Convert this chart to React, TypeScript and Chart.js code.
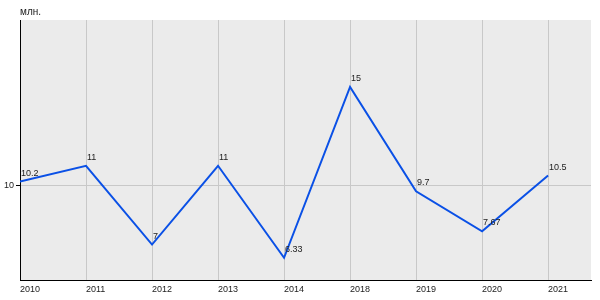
import React, { useEffect, useRef } from "react";
import { Chart, registerables } from "chart.js";

Chart.register(...registerables);

const categories = ["2010", "2011", "2012", "2013", "2014", "2018", "2019", "2020", "2021"];
const values = [10.2, 11, 7, 11, 6.33, 15, 9.7, 7.67, 10.5];
const yTicks = [10];
const unitLabel = "млн.";

const FONT = "Arial, 'Liberation Sans', sans-serif";

export default function App() {
  const ref = useRef<HTMLCanvasElement>(null);
  useEffect(() => {
    document.body.style.margin = "0";
    const canvas = ref.current!;
    const bgPlugin = {
      id: "bg",
      beforeDraw(chart: any) {
        const { ctx, chartArea } = chart;
        ctx.save();
        ctx.fillStyle = "#ebebeb";
        ctx.fillRect(chartArea.left, chartArea.top, chartArea.right - chartArea.left, chartArea.bottom - chartArea.top);
        ctx.restore();
      },
      afterDatasetsDraw(chart: any) {
        const { ctx } = chart;
        const meta = chart.getDatasetMeta(0);
        ctx.save();
        ctx.font = `9px ${FONT}`;
        ctx.fillStyle = "#222";
        ctx.textAlign = "left";
        ctx.textBaseline = "alphabetic";
        meta.data.forEach((pt: any, i: number) => {
          ctx.fillText(String(values[i]), pt.x + 1, pt.y - 6);
        });
        ctx.font = `10px ${FONT}`;
        ctx.textBaseline = "middle";
        ctx.fillText(unitLabel, chart.chartArea.left, 12);
        ctx.restore();
      },
    };
    const chart = new Chart(canvas, {
      type: "line",
      data: {
        datasets: [
          {
            data: values.map((v, i) => ({ x: i, y: v })),
            borderColor: "#0a50e6",
            borderWidth: 2,
            pointRadius: 0,
            tension: 0,
            fill: false,
          },
        ],
      },
      options: {
        animation: false,
        responsive: false,
        layout: { padding: { top: 20, right: 9, left: 0, bottom: 0 } },
        plugins: { legend: { display: false }, tooltip: { enabled: false } },
        scales: {
          x: {
            type: "linear",
            min: 0,
            max: 8.65,
            afterBuildTicks: (s: any) => {
              s.ticks = categories.map((_, i) => ({ value: i }));
            },
            afterFit: (s: any) => {
              s.height = 20;
            },
            ticks: {
              callback: (v: any) => categories[v as number] ?? "",
              align: "start",
              padding: 4,
              color: "#222",
              font: { family: FONT, size: 9 },
              maxRotation: 0,
              autoSkip: false,
            },
            grid: { color: "#c8c8c8", drawTicks: false, lineWidth: 1 },
            border: { color: "#000", width: 1 },
          },
          y: {
            type: "linear",
            min: 5.2,
            max: 18.4,
            afterBuildTicks: (s: any) => {
              s.ticks = yTicks.map((v) => ({ value: v }));
            },
            afterFit: (s: any) => {
              s.width = 20;
            },
            ticks: {
              padding: 2,
              color: "#222",
              font: { family: FONT, size: 9 },
            },
            grid: { color: "#c8c8c8", tickLength: 4, tickColor: "#000", lineWidth: 1 },
            border: { color: "#000", width: 1 },
          },
        },
      },
      plugins: [bgPlugin],
    });
    return () => chart.destroy();
  }, []);
  return <canvas ref={ref} width={600} height={300} style={{ display: "block", width: 600, height: 300 }} />;
}
